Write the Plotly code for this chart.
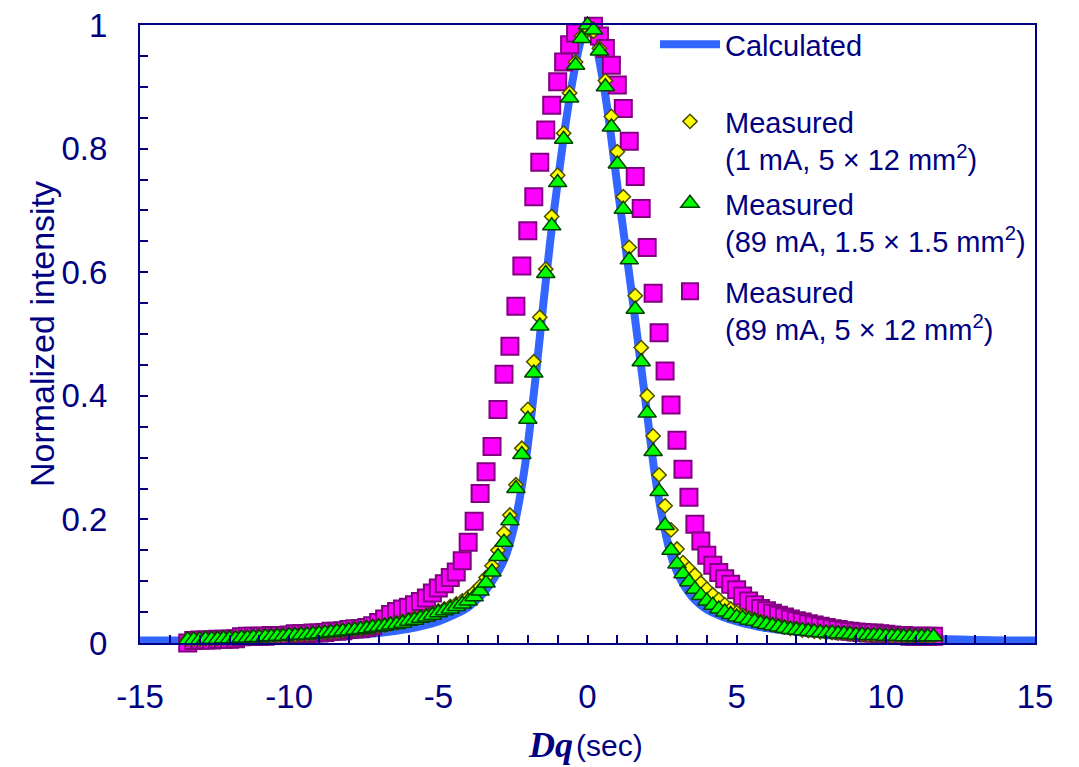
import plotly.graph_objects as go

# ---------------- data ----------------
dtheta = [-13.4, -13.2, -13.0, -12.8, -12.6, -12.4, -12.2, -12.0, -11.8, -11.6,
          -11.4, -11.2, -11.0, -10.8, -10.6, -10.4, -10.2, -10.0, -9.8, -9.6,
          -9.4, -9.2, -9.0, -8.8, -8.6, -8.4, -8.2, -8.0, -7.8, -7.6,
          -7.4, -7.2, -7.0, -6.8, -6.6, -6.4, -6.2, -6.0, -5.8, -5.6,
          -5.4, -5.2, -5.0,
          -4.8, -4.6, -4.4, -4.2, -4.0, -3.8, -3.6, -3.4, -3.2, -3.0,
          -2.8, -2.6, -2.4, -2.2, -2.0, -1.8, -1.6, -1.4, -1.2, -1.0,
          -0.8, -0.6, -0.4, -0.2, 0.0,
          0.2, 0.4, 0.6, 0.8, 1.0, 1.2, 1.4, 1.6, 1.8, 2.0,
          2.2, 2.4, 2.6, 2.8, 3.0, 3.2, 3.4, 3.6, 3.8, 4.0,
          4.2, 4.4, 4.6, 4.8, 5.0, 5.2, 5.4, 5.6, 5.8, 6.0,
          6.2, 6.4, 6.6, 6.8, 7.0, 7.2, 7.4, 7.6, 7.8, 8.0,
          8.2, 8.4, 8.6, 8.8, 9.0, 9.2, 9.4, 9.6, 9.8, 10.0,
          10.2, 10.4, 10.6, 10.8, 11.0, 11.2, 11.4, 11.6]

# Measured (1 mA, 5x12 mm2) - yellow diamonds
meas_1mA = [0.006, 0.006, 0.006, 0.007, 0.007, 0.007, 0.008, 0.008, 0.008, 0.009,
            0.009, 0.010, 0.010, 0.011, 0.011, 0.012, 0.012, 0.013, 0.013, 0.014,
            0.014, 0.015, 0.016, 0.017, 0.018, 0.019, 0.020, 0.021, 0.022, 0.023,
            0.025, 0.026, 0.028, 0.029, 0.031, 0.033, 0.035, 0.037, 0.040, 0.042,
            0.045, 0.048, 0.052,
            0.055, 0.059, 0.063, 0.068, 0.074, 0.082, 0.092, 0.106, 0.125, 0.150,
            0.178, 0.207, 0.256, 0.315, 0.378, 0.455, 0.527, 0.605, 0.690, 0.757,
            0.825, 0.890, 0.940, 0.982, 0.995,
            0.990, 0.962, 0.910, 0.852, 0.795, 0.722, 0.640, 0.562, 0.478, 0.400,
            0.335, 0.272, 0.222, 0.183, 0.152, 0.130, 0.120, 0.110, 0.097, 0.087,
            0.078, 0.070, 0.062, 0.055, 0.049, 0.045, 0.041, 0.038, 0.035, 0.032,
            0.030, 0.028, 0.026, 0.024, 0.023, 0.021, 0.020, 0.019, 0.018, 0.017,
            0.017, 0.016, 0.016, 0.015, 0.014, 0.014, 0.013, 0.013, 0.013, 0.012,
            0.012, 0.012, 0.011, 0.011, 0.011, 0.011, 0.011, 0.011]

# Measured (89 mA, 1.5x1.5 mm2) - green triangles
meas_89mA_small = [0.005, 0.005, 0.005, 0.006, 0.006, 0.006, 0.007, 0.007, 0.007, 0.008,
                   0.008, 0.009, 0.009, 0.010, 0.010, 0.011, 0.011, 0.012, 0.012, 0.013,
                   0.013, 0.014, 0.015, 0.016, 0.017, 0.018, 0.019, 0.020, 0.021, 0.022,
                   0.023, 0.025, 0.026, 0.027, 0.029, 0.030, 0.032, 0.035, 0.037, 0.040,
                   0.042, 0.045, 0.049,
                   0.052, 0.055, 0.059, 0.063, 0.068, 0.075, 0.084, 0.097, 0.115, 0.140,
                   0.163, 0.198, 0.250, 0.305, 0.362, 0.437, 0.513, 0.598, 0.675, 0.745,
                   0.815, 0.882, 0.935, 0.978, 1.000,
                   0.992, 0.958, 0.900, 0.835, 0.775, 0.702, 0.620, 0.540, 0.455, 0.372,
                   0.310, 0.245, 0.190, 0.150, 0.128, 0.112, 0.099, 0.087, 0.077, 0.068,
                   0.061, 0.055, 0.050, 0.046, 0.042, 0.040, 0.037, 0.035, 0.032, 0.030,
                   0.028, 0.026, 0.024, 0.022, 0.021, 0.020, 0.019, 0.018, 0.017, 0.016,
                   0.016, 0.015, 0.015, 0.014, 0.013, 0.013, 0.012, 0.012, 0.012, 0.011,
                   0.011, 0.011, 0.010, 0.010, 0.010, 0.010, 0.010, 0.010]

# Measured (89 mA, 5x12 mm2) - magenta squares
meas_89mA_large = [0.000, 0.004, 0.005, 0.005, 0.005, 0.006, 0.006, 0.006, 0.007, 0.010,
                   0.011, 0.011, 0.011, 0.011, 0.012, 0.012, 0.012, 0.013, 0.015, 0.015,
                   0.015, 0.016, 0.016, 0.017, 0.019, 0.019, 0.020, 0.022, 0.023, 0.023,
                   0.025, 0.028, 0.033, 0.039, 0.046, 0.051, 0.055, 0.058, 0.062, 0.067,
                   0.073, 0.081, 0.089,
                   0.096, 0.106, 0.115, 0.133, 0.163, 0.197, 0.242, 0.277, 0.318, 0.378,
                   0.435, 0.480, 0.545, 0.610, 0.667, 0.722, 0.778, 0.830, 0.870, 0.908,
                   0.940, 0.968, 0.987, 1.002, 1.004,
                   0.998, 0.982, 0.962, 0.935, 0.903, 0.865, 0.812, 0.755, 0.703, 0.640,
                   0.566, 0.502, 0.440, 0.385, 0.328, 0.281, 0.236, 0.192, 0.165, 0.142,
                   0.126, 0.114, 0.104, 0.095, 0.086, 0.076, 0.068, 0.062, 0.056, 0.052,
                   0.048, 0.045, 0.042, 0.039, 0.036, 0.034, 0.031, 0.029, 0.027, 0.025,
                   0.023, 0.022, 0.020, 0.019, 0.018, 0.017, 0.016, 0.016, 0.015, 0.014,
                   0.013, 0.012, 0.012, 0.011, 0.011, 0.011, 0.011, 0.011]

# Calculated curve
calc_x = [-15.0, -14.0, -13.0, -12.0, -11.0, -10.0, -9.0, -8.0, -7.0, -6.0,
          -5.5, -5.0, -4.5, -4.0, -3.5, -3.25, -3.0, -2.75, -2.5, -2.25,
          -2.0, -1.75, -1.5, -1.25, -1.0, -0.75, -0.5, -0.25, 0.0,
          0.25, 0.5, 0.75, 1.0, 1.25, 1.5, 1.75, 2.0, 2.25, 2.5,
          2.75, 3.0, 3.25, 3.5, 3.75, 4.0, 4.5, 5.0, 5.5, 6.0,
          7.0, 8.0, 9.0, 10.0, 11.0, 12.0, 13.0, 14.0, 15.0]
calc_y = [0.004, 0.004, 0.004, 0.005, 0.006, 0.007, 0.009, 0.012, 0.016, 0.023,
          0.028, 0.035, 0.045, 0.058, 0.080, 0.096, 0.115, 0.140, 0.180, 0.240,
          0.320, 0.425, 0.540, 0.650, 0.745, 0.835, 0.910, 0.970, 1.000,
          0.975, 0.915, 0.835, 0.740, 0.650, 0.560, 0.465, 0.370, 0.275, 0.205,
          0.150, 0.115, 0.092, 0.075, 0.063, 0.054, 0.043, 0.035, 0.029, 0.024,
          0.018, 0.013, 0.010, 0.008, 0.007, 0.006, 0.005, 0.004, 0.004]

x_tickvals = [-15, -10, -5, 0, 5, 10, 15]
x_ticktext = ["-15", "-10", "-5", "0", "5", "10", "15"]

names = ["Calculated",
         "Measured<br>(1 mA, 5 × 12 mm<sup>2</sup>)",
         "Measured<br>(89 mA, 1.5 × 1.5 mm<sup>2</sup>)",
         "Measured<br>(89 mA, 5 × 12 mm<sup>2</sup>)"]

# ---------------- figure ----------------
NAVY = "#000080"
FONT = "Liberation Sans, Arial, sans-serif"
W, H = 1079, 767
L, R, T, B = 140, 44, 25, 124
PW, PH = W - L - R, H - T - B


def px2paper(xp, yp):
    return (xp - L) / PW, (H - B - yp) / PH


fig = go.Figure()
fig.add_trace(go.Scatter(x=calc_x, y=calc_y, mode="lines", name=names[0],
                         line=dict(color="#3366FF", width=8, shape="spline", smoothing=0.5),
                         legend="legend", showlegend=True, cliponaxis=False))
fig.add_trace(go.Scatter(x=dtheta, y=meas_89mA_large, mode="markers", name=names[3],
                         marker=dict(symbol="square", size=17, color="#FF00FF",
                                     line=dict(color="#800080", width=2)),
                         legend="legend4", showlegend=True, cliponaxis=False))
fig.add_trace(go.Scatter(x=dtheta, y=meas_1mA, mode="markers", name=names[1],
                         marker=dict(symbol="diamond", size=11, color="#FFFF00",
                                     line=dict(color="#4D4D00", width=1.5)),
                         legend="legend2", showlegend=True, cliponaxis=False))
fig.add_trace(go.Scatter(x=dtheta, y=meas_89mA_small, mode="markers", name=names[2],
                         marker=dict(symbol="triangle-up", size=16, color="#00FF00",
                                     line=dict(color="#004000", width=1.5)),
                         legend="legend3", showlegend=True, cliponaxis=False))


def leg(xp, yp):
    x, y = px2paper(xp, yp)
    return dict(x=x, y=y, xanchor="left", yanchor="top", visible=True,
                font=dict(family=FONT, size=29, color=NAVY),
                bgcolor="rgba(0,0,0,0)", borderwidth=0, itemwidth=60,
                valign="top", tracegroupgap=0)


axis_common = dict(showline=True, linecolor=NAVY, linewidth=2, mirror=True,
                   showgrid=False, zeroline=False, ticks="inside", ticklen=8,
                   tickwidth=2, tickcolor=NAVY,
                   tickfont=dict(family=FONT, size=33, color=NAVY))

ytx, yty = px2paper(42, 334)
xtx1, xty = px2paper(575, 745)
xtx2, _ = px2paper(574, 745)

fig.update_layout(
    width=W, height=H,
    showlegend=True,
    margin=dict(l=L, r=R, t=T, b=B, autoexpand=False),
    paper_bgcolor="white", plot_bgcolor="white",
    xaxis=dict(range=[-15, 15], tickmode="array", tickvals=x_tickvals,
               ticktext=x_ticktext, ticklabelstandoff=23,
               minor=dict(dtick=1, tick0=0, ticks="inside", ticklen=8, tickwidth=1.5,
                          tickcolor=NAVY, showgrid=False),
               **axis_common),
    yaxis=dict(range=[0, 1], tick0=0, dtick=0.2, ticklabelstandoff=24,
               minor=dict(dtick=0.05, ticks="inside", ticklen=8, tickwidth=1.5,
                          tickcolor=NAVY, showgrid=False),
               **axis_common),
    legend=leg(655, 19),
    legend2=leg(655, 96),
    legend3=leg(655, 178),
    legend4=leg(655, 266),
    annotations=[
        dict(text="Normalized intensity", x=ytx, y=yty, xref="paper", yref="paper",
             textangle=-90, showarrow=False, xanchor="center", yanchor="middle",
             font=dict(family=FONT, size=34, color=NAVY)),
        dict(text="<b><i>Dq</i></b>", x=xtx1, y=xty, xref="paper", yref="paper",
             showarrow=False, xanchor="right", yanchor="middle",
             font=dict(family="Liberation Serif, Times New Roman, serif", size=36, color=NAVY)),
        dict(text="(sec)", x=xtx2, y=xty, xref="paper", yref="paper",
             showarrow=False, xanchor="left", yanchor="middle",
             font=dict(family=FONT, size=30, color=NAVY)),
    ],
)

fix_position = ("var gd=document.getElementById('{plot_id}');"
                "document.body.style.margin='0';document.body.style.padding='0';"
                "gd.style.position='absolute';gd.style.left='0px';gd.style.top='0px';")

fig.write_html("out.html", post_script=fix_position,
               config={"displayModeBar": False})
